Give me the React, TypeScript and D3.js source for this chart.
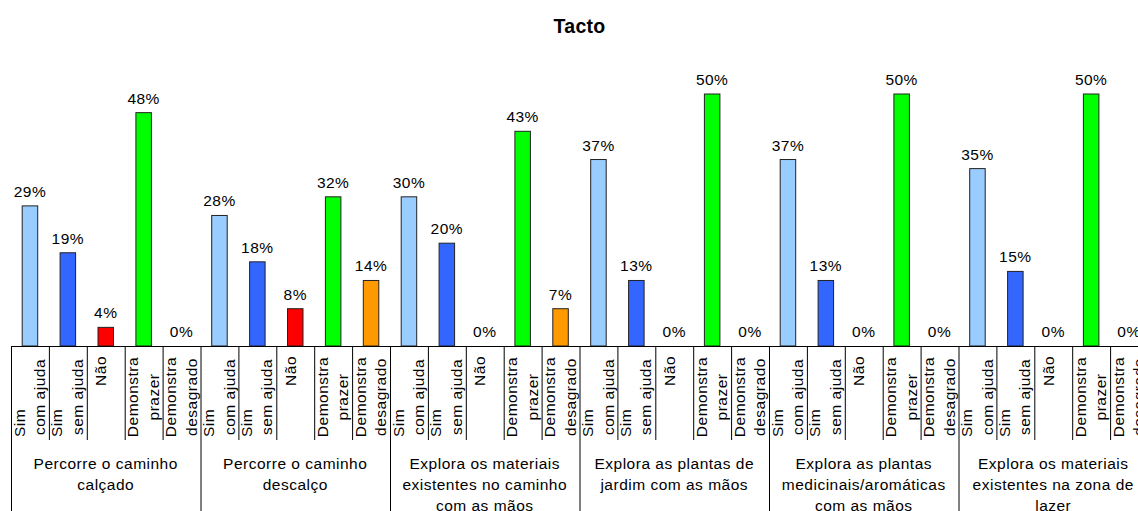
import * as React from "react";
import * as d3 from "d3";

// group (activity) labels, one line per entry
const groupLines: string[][] = [
    ["Percorre o caminho", "calçado"],
    ["Percorre o caminho", "descalço"],
    ["Explora os materiais", "existentes no caminho", "com as mãos"],
    ["Explora as plantas de", "jardim com as mãos"],
    ["Explora as plantas", "medicinais/aromáticas", "com as mãos"],
    ["Explora os materiais", "existentes na zona de", "lazer"],
];

const answers = ["comAjuda", "semAjuda", "nao", "prazer", "desagrado"];
const answerLines: string[][] = [
    ["Sim", "com ajuda"],
    ["Sim", "sem ajuda"],
    ["Não"],
    ["Demonstra", "prazer"],
    ["Demonstra", "desagrado"],
];
const answerColors = ["#99ccff", "#3366ff", "#ff0000", "#00ff00", "#ff9900"];

// bar heights (%) as drawn
const comAjuda = [27.8, 25.9, 29.6, 37.0, 37.0, 35.2];
const semAjuda = [18.5, 16.7, 20.4, 13.0, 13.0, 14.8];
const nao = [3.7, 7.4, 0, 0, 0, 0];
const prazer = [46.3, 29.6, 42.6, 50.0, 50.0, 50.0];
const desagrado = [0, 13.0, 7.4, 0, 0, 0];

// percentages printed above the bars
const shownComAjuda = [29, 28, 30, 37, 37, 35];
const shownSemAjuda = [19, 18, 20, 13, 13, 15];
const shownNao = [4, 8, 0, 0, 0, 0];
const shownPrazer = [48, 32, 43, 50, 50, 50];
const shownDesagrado = [0, 14, 7, 0, 0, 0];

const values = [comAjuda, semAjuda, nao, prazer, desagrado];
const shown = [shownComAjuda, shownSemAjuda, shownNao, shownPrazer, shownDesagrado];

const W = 1138, H = 511;
const FONT = "'Liberation Sans', Arial, sans-serif";
const LABEL_FONT = `15.5px ${FONT}`;
const LABEL_SPACING = "0.5px";

export default function App() {
    const ref = React.useRef<SVGSVGElement>(null);

    React.useEffect(() => {
        const svg = d3.select(ref.current);
        svg.selectAll("*").remove();

        const left = 11, groupW = 189.5;
        const baseY = 346;
        const groupIdx = d3.range(groupLines.length);

        const x0 = d3.scaleBand<number>().domain(groupIdx).range([left, left + groupW * groupIdx.length]).padding(0);
        const x1 = d3.scaleBand<string>().domain(answers).range([0, x0.bandwidth()]).padding(0);
        const y = d3.scaleLinear().domain([0, 50]).range([baseY, 94]);
        const barW = 15.5;

        // title
        svg.append("text")
            .attr("x", (x0.range()[0] + x0.range()[1]) / 2)
            .attr("y", 33)
            .attr("text-anchor", "middle")
            .style("font", `bold 19.5px ${FONT}`)
            .style("letter-spacing", "0.3px")
            .text("Tacto");

        const g = svg.selectAll("g.grp").data(groupIdx).enter().append("g")
            .attr("class", "grp")
            .attr("transform", d => `translate(${x0(d)},0)`);

        // bars + value labels
        answers.forEach((a, ai) => {
            const cx = x1(a)! + x1.bandwidth() / 2;
            g.filter(d => values[ai][d] > 0).append("rect")
                .attr("x", cx - barW / 2)
                .attr("y", d => y(values[ai][d]))
                .attr("width", barW)
                .attr("height", d => baseY - y(values[ai][d]))
                .attr("fill", answerColors[ai])
                .attr("stroke", "#222")
                .attr("stroke-width", 1);

            g.append("text")
                .attr("x", cx)
                .attr("y", d => y(values[ai][d]) - 9)
                .attr("text-anchor", "middle")
                .style("font", LABEL_FONT)
                .style("letter-spacing", LABEL_SPACING)
                .text(d => shown[ai][d] + "%");
        });

        // axis line
        svg.append("line")
            .attr("x1", left).attr("x2", W + 20)
            .attr("y1", baseY + 0.5).attr("y2", baseY + 0.5)
            .attr("stroke", "#000");

        // tick separators (group borders go down to the bottom)
        answers.forEach((a, ai) => {
            g.append("line")
                .attr("x1", x1(a)! + 0.5).attr("x2", x1(a)! + 0.5)
                .attr("y1", baseY).attr("y2", ai === 0 ? H : 440)
                .attr("stroke", "#000");
        });

        // rotated answer labels
        answers.forEach((a, ai) => {
            const lines = answerLines[ai];
            lines.forEach((ln, li) => {
                let bx, yy, anchor;
                if (lines.length === 1) {
                    bx = 19.5; yy = 356; anchor = "end";
                } else {
                    bx = li === 0 ? 13.5 : 34;
                    if (ln === "Sim") { yy = 437; anchor = "start"; }
                    else { yy = 397; anchor = "middle"; }
                }
                g.append("text")
                    .attr("transform", `translate(${x1(a)! + bx},${yy}) rotate(-90)`)
                    .attr("text-anchor", anchor)
                    .style("font", LABEL_FONT)
                    .style("letter-spacing", LABEL_SPACING)
                    .text(ln);
            });
        });

        // group labels
        g.each(function (d) {
            const sel = d3.select(this);
            groupLines[d].forEach((ln, li) => {
                sel.append("text")
                    .attr("x", x0.bandwidth() / 2)
                    .attr("y", 468.5 + li * 21)
                    .attr("text-anchor", "middle")
                    .style("font", LABEL_FONT)
                    .style("letter-spacing", LABEL_SPACING)
                    .text(ln);
            });
        });
    }, []);

    return (
        <svg ref={ref} width={W} height={H}
            style={{ position: "absolute", left: 0, top: 0, background: "#fff" }} />
    );
}
